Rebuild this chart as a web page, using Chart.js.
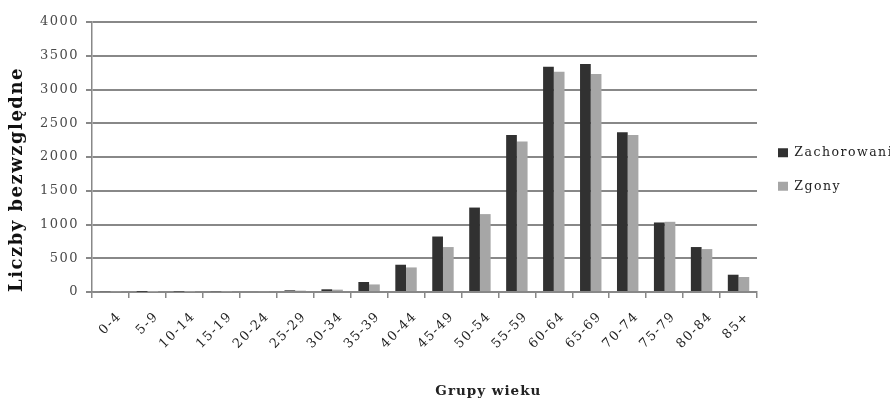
<!DOCTYPE html>
<html>
<head>
<meta charset="utf-8">
<script src="https://cdn.jsdelivr.net/npm/chart.js@4"></script>
<style>
  html, body { margin: 0; padding: 0; background: #ffffff; overflow: hidden; }
  canvas { display: block; }
</style>
</head>
<body>
<canvas id="chart" width="890" height="401"></canvas>
<script>
// Age groups (years)
const ageGroups = ['0-4', '5-9', '10-14', '15-19', '20-24', '25-29', '30-34', '35-39', '40-44',
  '45-49', '50-54', '55-59', '60-64', '65-69', '70-74', '75-79', '80-84', '85+'];

// Absolute counts per age group
const incidence = [12, 3, 8, 12, 15, 25, 40, 148, 404, 822, 1251, 2327, 3337, 3377, 2367, 1030, 666, 256];
const deaths    = [10, 2, 5, 8, 12, 20, 35, 112, 364, 666, 1154, 2228, 3263, 3229, 2327, 1040, 636, 222];

// Value axis ticks
const yTicks = [0, 500, 1000, 1500, 2000, 2500, 3000, 3500, 4000];

const serif = '"DejaVu Serif", "Liberation Serif", serif';
const gridGrey = '#888888';

// Wide lettering for every label drawn by the chart
const letterSpacing = {
  id: 'letterSpacing',
  beforeUpdate(chart) { chart.ctx.letterSpacing = '1.5px'; },
  beforeDraw(chart) { chart.ctx.letterSpacing = '1.5px'; }
};

// Category axis caption, set a little right of the plot centre
const xCaption = {
  id: 'xCaption',
  afterDraw(chart) {
    const { ctx, chartArea: a } = chart;
    ctx.save();
    ctx.letterSpacing = '1px';
    ctx.font = 'bold 13.5px ' + serif;
    ctx.fillStyle = '#222';
    ctx.textAlign = 'center';
    ctx.textBaseline = 'middle';
    ctx.fillText('Grupy wieku', a.left + (a.right - a.left) * 0.596, a.bottom + 99);
    ctx.restore();
  }
};

new Chart(document.getElementById('chart'), {
  type: 'bar',
  data: {
    labels: ageGroups,
    datasets: [
      { label: 'Zachorowania', data: incidence, backgroundColor: '#313131' },
      { label: 'Zgony', data: deaths, backgroundColor: '#a6a6a6' }
    ]
  },
  options: {
    responsive: false,
    animation: false,
    layout: { padding: { top: 22, left: 0, right: 0, bottom: 0 } },
    datasets: { bar: { categoryPercentage: 0.58, barPercentage: 1 } },
    scales: {
      x: {
        grid: { drawOnChartArea: false, drawTicks: true, tickLength: 6, color: gridGrey, lineWidth: 1.5 },
        border: { color: gridGrey, width: 1.5 },
        ticks: { minRotation: 45, maxRotation: 45, autoSkip: false, padding: 11, labelOffset: 9,
          color: '#222', font: { family: serif, size: 13 } },
        afterFit(scale) { scale.height = 109; }
      },
      y: {
        min: 0,
        max: 4000,
        afterBuildTicks(scale) { scale.ticks = yTicks.map(v => ({ value: v })); },
        ticks: { padding: 7, color: '#4a4a4a', font: { family: serif, size: 13 },
          callback: v => String(v) },
        grid: { color: gridGrey, lineWidth: 2, tickLength: 6 },
        border: { color: gridGrey, width: 1.5 },
        title: {
          display: true,
          text: 'Liczby bezwzględne',
          align: 'start',
          color: '#111',
          font: { family: serif, size: 18, weight: 'bold' },
          padding: { top: 7, bottom: 0 }
        },
        afterFit(scale) { scale.width = 92; }
      }
    },
    plugins: {
      legend: {
        position: 'right',
        fullSize: false,
        maxWidth: 133,
        align: 'center',
        title: { display: true, text: '', font: { size: 10 }, padding: 6.5 },
        labels: { boxWidth: 10, boxHeight: 9, padding: 21, color: '#222',
          font: { family: serif, size: 12.5 } }
      },
      tooltip: { enabled: false }
    }
  },
  plugins: [letterSpacing, xCaption]
});
</script>
</body>
</html>
